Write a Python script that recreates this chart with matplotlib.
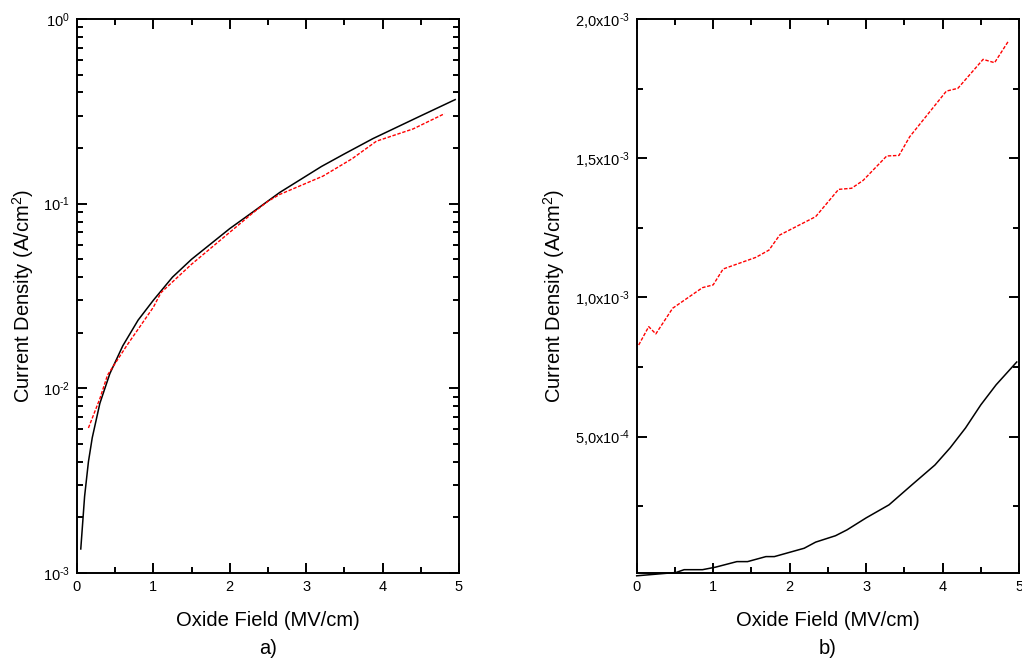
import matplotlib
matplotlib.use("Agg")
import matplotlib.pyplot as plt
from matplotlib.ticker import MultipleLocator, LogLocator, NullFormatter

plt.rcParams["font.family"] = ["Liberation Sans", "DejaVu Sans"]
plt.rcParams["mathtext.fontset"] = "custom"
plt.rcParams["mathtext.rm"] = "Liberation Sans"
plt.rcParams["mathtext.it"] = "Liberation Sans"
plt.rcParams["mathtext.default"] = "regular"

# ── Panel a) log scale ────────────────────────────────────────────────────
a_black_x = [0.05, 0.1, 0.15, 0.2, 0.3, 0.43, 0.6, 0.8, 1.0, 1.25, 1.5, 2.0, 2.3,
             2.654, 3.2, 3.5, 3.873, 4.5, 4.95]
a_black_y = [1.35e-3, 2.6e-3, 4.0e-3, 5.4e-3, 8.3e-3, 1.2e-2, 1.70e-2, 2.34e-2,
             3.0e-2, 4.0e-2, 5.0e-2, 7.33e-2, 9.0e-2, 0.115, 0.159, 0.186, 0.225,
             0.299, 0.366]
a_red_x = [0.15, 0.3, 0.4, 0.65, 1.0, 1.1, 1.5, 2.0, 2.3, 2.5, 2.65, 3.22, 3.6,
           3.92, 4.4, 4.81]
a_red_y = [6.1e-3, 8.8e-3, 1.18e-2, 1.7e-2, 2.75e-2, 3.3e-2, 4.7e-2, 7.0e-2,
           8.9e-2, 0.103, 0.112, 0.141, 0.175, 0.218, 0.254, 0.307]

# ── Panel b) linear scale ─────────────────────────────────────────────────
b_black_x = [0.0, 0.515, 0.62, 0.86, 1.03, 1.31, 1.45, 1.69, 1.80, 2.19, 2.34, 2.60,
             2.75, 3.0, 3.3, 3.6, 3.9, 4.1, 4.3, 4.5, 4.7, 4.97]
b_black_y = [0.0, 1.2e-5, 2.2e-5, 2.2e-5, 3.1e-5, 5.1e-5, 5.1e-5, 6.9e-5, 6.9e-5,
             9.9e-5, 1.21e-4, 1.44e-4, 1.65e-4, 2.08e-4, 2.55e-4, 3.27e-4, 3.98e-4,
             4.6e-4, 5.31e-4, 6.14e-4, 6.86e-4, 7.68e-4]
b_red_x = [0.026, 0.157, 0.25, 0.47, 0.86, 1.0, 1.13, 1.56, 1.73, 1.87, 2.34, 2.64,
           2.81, 2.96, 3.27, 3.43, 3.57, 4.05, 4.20, 4.53, 4.68, 4.86]
b_red_y = [8.29e-4, 8.95e-4, 8.69e-4, 9.61e-4, 1.035e-3, 1.045e-3, 1.102e-3, 1.144e-3,
           1.170e-3, 1.224e-3, 1.29e-3, 1.388e-3, 1.392e-3, 1.42e-3, 1.508e-3, 1.51e-3,
           1.577e-3, 1.741e-3, 1.751e-3, 1.855e-3, 1.843e-3, 1.92e-3]

b_ticks = [5e-4, 1e-3, 1.5e-3, 2e-3]
b_ticklabels = ["5,0x10$^{\u20104}$", "1,0x10$^{\u20103}$", "1,5x10$^{\u20103}$",
                "2,0x10$^{\u20103}$"]
a_ticks = [1e-3, 1e-2, 1e-1, 1e0]
a_ticklabels = ["10$^{\u20103}$", "10$^{\u20102}$", "10$^{\u20101}$", "10$^{0}$"]

RED_DASH = (0, (2.5, 1.2))

fig = plt.figure(figsize=(10.22, 6.62), dpi=100)
ax1 = fig.add_axes([0.0753, 0.1344, 0.3738, 0.8369])
ax2 = fig.add_axes([0.6230, 0.1344, 0.3741, 0.8369])


def style(ax):
    for s in ax.spines.values():
        s.set_linewidth(1.4)
    ax.tick_params(which="both", direction="in", top=True, right=True,
                   labelsize=10.5, width=1.4, pad=5)
    ax.tick_params(which="major", length=7)
    ax.tick_params(which="minor", length=4.5)
    ax.set_xlim(0, 5)
    ax.xaxis.set_major_locator(MultipleLocator(1))
    ax.xaxis.set_minor_locator(MultipleLocator(0.5))


ax1.plot(a_black_x, a_black_y, color="black", linewidth=1.1)
ax1.plot(a_red_x, a_red_y, color="red", linewidth=1.0, linestyle=RED_DASH)
ax1.set_yscale("log")
ax1.set_ylim(1e-3, 1)
style(ax1)
ax1.yaxis.set_minor_locator(LogLocator(base=10, subs=range(2, 10)))
ax1.yaxis.set_minor_formatter(NullFormatter())
ax1.set_yticks(a_ticks)
ax1.set_yticklabels(a_ticklabels)

ax2.plot(b_black_x, b_black_y, color="black", linewidth=1.1, clip_on=False)
ax2.plot(b_red_x, b_red_y, color="red", linewidth=1.0, linestyle=RED_DASH)
ax2.set_ylim(1e-5, 2e-3)
style(ax2)
ax2.set_yticks(b_ticks)
ax2.set_yticklabels(b_ticklabels)
ax2.yaxis.set_minor_locator(MultipleLocator(2.5e-4))

for cx, tag in [(0.262, "a)"), (0.810, "b)")]:
    fig.text(cx, 0.0634, "Oxide Field (MV/cm)", ha="center", va="center", fontsize=14.5)
    fig.text(cx, 0.021, tag, ha="center", va="center", fontsize=14.5)

for lx in [0.0225, 0.542]:
    fig.text(lx, 0.553, "Current Density (A/cm$^2$)", rotation=90,
             ha="center", va="center", fontsize=14.5)

fig.savefig("out.png", dpi=100)
